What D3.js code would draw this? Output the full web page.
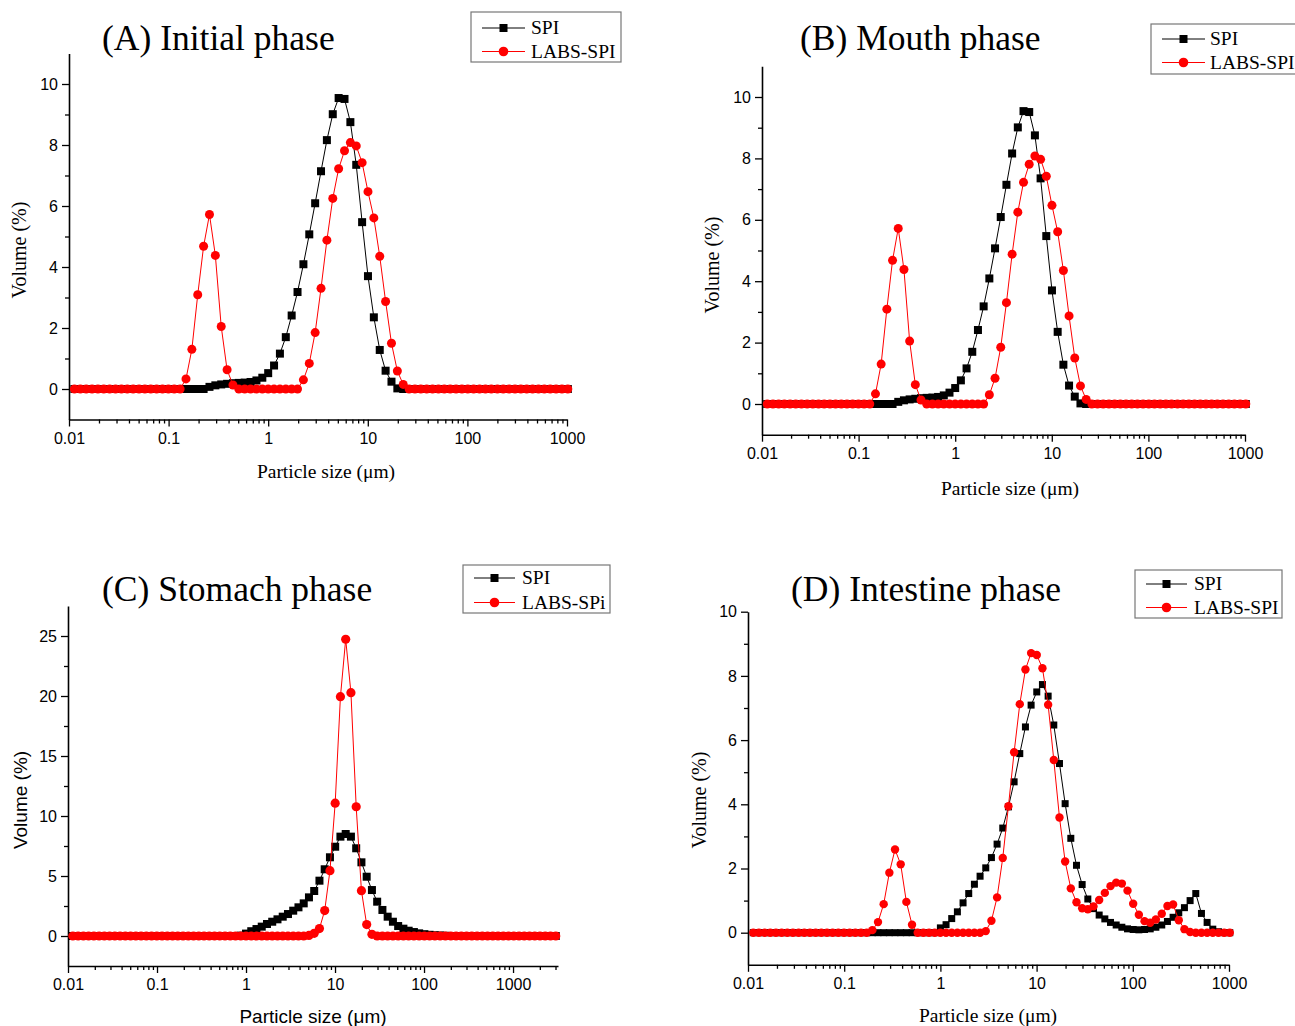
<!DOCTYPE html>
<html><head><meta charset="utf-8">
<script src="https://cdn.jsdelivr.net/npm/d3@7"></script>
<style>body{margin:0;background:#fff}svg{display:block}</style>
</head><body>
<svg id="chart" width="1295" height="1026"></svg>
<script>
// Particle size classes (µm), laser-diffraction channel grid
const sizes = [0.01134,0.01299,0.01488,0.01704,0.01952,0.02236,0.02561,0.02933,0.03359,0.03848,
0.04407,0.05048,0.05782,0.06622,0.07585,0.08687,0.0995,0.1140,0.1305,0.1495,
0.1712,0.1961,0.2246,0.2573,0.2947,0.3375,0.3866,0.4428,0.5071,0.5809,
0.6653,0.7620,0.8728,0.9997,1.145,1.311,1.502,1.720,1.970,2.257,
2.585,2.961,3.391,3.884,4.449,5.095,5.836,6.685,7.656,8.769,
10.04,11.50,13.18,15.09,17.29,19.80,22.68,25.98,29.75,34.08,
39.03,44.71,51.21,58.65,67.18,76.94,88.13,100.9,115.6,132.4,
151.7,173.7,200.0,229.1,262.4,300.5,344.2,394.2,451.5,517.2,
592.3,678.4,777.0,890.0,1019,1168,1337,1532,1754,2009,
2301,2636,3019];

const xTickLabels = ["0.01","0.1","1","10","100","1000"];

// (A) Initial phase
const initialSPI = [0,0,0,0,0,0,0,0,0,0, 0,0,0,0,0,0,0,0,0,0, 0,0,0,
0.07,0.12,0.15,0.17,0.19,0.20,0.21,0.23,0.28,0.37,0.52,0.77,1.16,1.70,2.41,3.18,4.09,
5.07,6.09,7.14,8.16,9.01,9.54,9.51,8.75,7.35,5.47,3.70,2.35,1.28,0.60,0.24,0.02,
0,0,0,0,0,0,0,0,0,0, 0,0,0,0,0,0,0,0,0,0, 0,0,0,0,0,0,0,0,0];
const initialLABS = [0,0,0,0,0,0,0,0,0,0, 0,0,0,0,0,0,0,0,0,
0.33,1.30,3.09,4.68,5.72,4.38,2.05,0.63,0.13,
0,0,0,0,0,0,0,0,0,0,0,
0.30,0.84,1.85,3.30,4.88,6.25,7.22,7.81,8.08,7.97,7.42,6.47,5.61,4.35,2.87,1.50,0.59,0.15,
0,0,0,0,0,0,0,0,0,0, 0,0,0,0,0,0,0,0,0,0, 0,0,0,0,0,0,0,0];

// (B) Mouth phase
const mouthSPI = [0,0,0,0,0,0,0,0,0,0, 0,0,0,0,0,0,0,0,0,0, 0,0,0,
0.07,0.12,0.15,0.17,0.19,0.20,0.21,0.23,0.28,0.37,0.52,0.77,1.16,1.70,2.41,3.18,4.09,
5.07,6.09,7.14,8.16,9.01,9.54,9.51,8.75,7.35,5.47,3.70,2.35,1.28,0.60,0.24,0.02,
0,0,0,0,0,0,0,0,0,0, 0,0,0,0,0,0,0,0,0,0, 0,0,0,0,0,0,0,0,0];
const mouthLABS = [0,0,0,0,0,0,0,0,0,0, 0,0,0,0,0,0,0,0,0,
0.33,1.30,3.09,4.68,5.72,4.38,2.05,0.63,0.13,
0,0,0,0,0,0,0,0,0,0,0,
0.30,0.84,1.85,3.30,4.88,6.25,7.22,7.81,8.08,7.97,7.42,6.47,5.61,4.35,2.87,1.50,0.59,0.15,
0,0,0,0,0,0,0,0,0,0, 0,0,0,0,0,0,0,0,0,0, 0,0,0,0,0,0,0,0];

// (C) Stomach phase
const stomachSPI = [0,0,0,0,0,0,0,0,0,0, 0,0,0,0,0,0,0,0,0,0, 0,0,0,0,0,0,0,0,0,0, 0,0,
0.03,0.20,0.40,0.58,0.78,1.00,1.19,1.39,1.61,1.83,2.11,2.39,2.72,3.22,3.75,4.61,5.56,6.56,
7.44,8.28,8.50,8.28,7.31,6.14,4.94,3.83,2.86,2.17,1.61,1.19,0.83,0.61,0.44,0.33,0.22,0.15,0.10,0.06,
0.04,0.02,
0,0,0,0,0,0,0,0,0,0, 0,0,0,0,0,0,0,0,0,0, 0];
const stomachLABS = [0,0,0,0,0,0,0,0,0,0, 0,0,0,0,0,0,0,0,0,0, 0,0,0,0,0,0,0,0,0,0,
0,0,0,0,0,0,0,0,0,0, 0,0,0,0,0,
0.05,0.22,0.62,2.12,5.44,11.07,19.94,24.73,20.28,10.77,3.78,0.95,0.14,
0,0,0,0,0,0,0,0,0,0, 0,0,0,0,0,0,0,0,0,0, 0,0,0,0,0,0,0,0,0,0, 0,0,0,0,0];

// (D) Intestine phase
const intestineSPI = [0,0,0,0,0,0,0,0,0,0, 0,0,0,0,0,0,0,0,0,0, 0,0,0,0,0,0,0,0,0,0, 0,0,0,
0.15,0.25,0.44,0.65,0.93,1.22,1.51,1.76,2.02,2.34,2.76,3.26,3.92,4.70,5.58,6.41,7.09,
7.50,7.73,7.37,6.47,5.27,4.02,2.94,2.10,1.50,1.05,0.75,0.55,0.43,0.32,0.24,0.17,0.12,
0.10,0.09,0.10,0.12,0.17,0.24,0.35,0.48,0.62,0.78,1.00,1.22,0.60,0.32,0.11,0.03,0,0];
const intestineLABS = [0,0,0,0,0,0,0,0,0,0, 0,0,0,0,0,0,0,0,0,0, 0,
0.08,0.33,0.89,1.87,2.59,2.13,0.96,0.25,
0,0,0,0,0,0,0,0,0,0,0,0,
0.05,0.37,1.10,2.33,3.94,5.62,7.12,8.20,8.71,8.65,8.24,7.10,5.38,3.59,2.22,1.38,0.95,0.76,
0.73,0.82,1.02,1.24,1.45,1.56,1.53,1.31,0.90,0.56,0.36,0.31,0.41,0.59,0.83,0.88,0.39,0.11,0.02,
0,0,0,0,0,0,0];

const panels = [
  {title:"(A) Initial phase", spi:initialSPI, labs:initialLABS, names:["SPI","LABS-SPI"],
   xMax:1000, px:[69,567], yDom:[-1,11], py:[419.5,53.5], yTicks:[0,2,4,6,8,10], yMinor:[1,3,5,7,9],
   titlePos:[102,50], xTitlePos:[326,478], yTitlePos:[26,250], axisFont:"Liberation Serif",
   legend:{x:471,y:12,w:150,h:50,r1:28,r2:51.5,lx0:482,lx1:525,tx:531},
   sq:8, rad:4.5},
  {title:"(B) Mouth phase", spi:mouthSPI, labs:mouthLABS, names:["SPI","LABS-SPI"],
   xMax:1000, px:[762,1245], yDom:[-1,11], py:[434.7,66.3], yTicks:[0,2,4,6,8,10], yMinor:[1,3,5,7,9],
   titlePos:[800,50], xTitlePos:[1010,495], yTitlePos:[719,265], axisFont:"Liberation Serif",
   legend:{x:1151,y:24,w:152,h:50,r1:39,r2:62.5,lx0:1162,lx1:1205,tx:1210},
   sq:8, rad:4.5},
  {title:"(C) Stomach phase", spi:stomachSPI, labs:stomachLABS, names:["SPI","LABS-SPi"],
   xMax:3200, px:[68,558], yDom:[-2.5,27.5], py:[966,606], yTicks:[0,5,10,15,20,25], yMinor:[2.5,7.5,12.5,17.5,22.5],
   titlePos:[102,601], xTitlePos:[313,1023], yTitlePos:[27,800], axisFont:"Liberation Sans",
   legend:{x:463,y:565,w:147,h:48,r1:578,r2:602.5,lx0:474,lx1:515,tx:522},
   sq:8, rad:4.6},
  {title:"(D) Intestine phase", spi:intestineSPI, labs:intestineLABS, names:["SPI","LABS-SPI"],
   xMax:1000, px:[748,1229], yDom:[-1,10], py:[964.8,611.7], yTicks:[0,2,4,6,8,10], yMinor:[1,3,5,7,9],
   titlePos:[791,601], xTitlePos:[988,1022], yTitlePos:[706,800], axisFont:"Liberation Serif",
   legend:{x:1135,y:570,w:147,h:48,r1:584,r2:607.5,lx0:1146,lx1:1187,tx:1194},
   sq:7, rad:4.2}
];

const svg = d3.select("#chart");
const serif = "'Liberation Serif','Times New Roman',serif";
const sans = "'Liberation Sans',Arial,sans-serif";

panels.forEach(p => {
  const g = svg.append("g");
  const x = d3.scaleLog().domain([0.01, p.xMax]).range(p.px);
  const y = d3.scaleLinear().domain(p.yDom).range(p.py);

  // x axis
  const majors = [0.01,0.1,1,10,100,1000];
  const minors = [];
  majors.forEach(d => { for (let k=2;k<=9;k++){ const v=d*k; if (v<=p.xMax) minors.push(v);} });
  const xAxisG = g.append("g").attr("transform",`translate(0,${p.py[0]})`);
  xAxisG.call(d3.axisBottom(x).tickValues(majors).tickFormat((d,i)=>xTickLabels[i]).tickSize(7).tickPadding(6).tickSizeOuter(0));
  const xMinorG = g.append("g").attr("transform",`translate(0,${p.py[0]})`);
  xMinorG.call(d3.axisBottom(x).tickValues(minors).tickFormat("").tickSize(4).tickSizeOuter(0));
  xMinorG.select(".domain").remove();

  // y axis
  const yAxisG = g.append("g").attr("transform",`translate(${p.px[0]},0)`);
  yAxisG.call(d3.axisLeft(y).tickValues(p.yTicks).tickFormat(d3.format("d")).tickSize(7).tickPadding(4).tickSizeOuter(0));
  const yMinorG = g.append("g").attr("transform",`translate(${p.px[0]},0)`);
  yMinorG.call(d3.axisLeft(y).tickValues(p.yMinor).tickFormat("").tickSize(4).tickSizeOuter(0));
  yMinorG.select(".domain").remove();

  g.selectAll(".domain").attr("stroke","#000").attr("stroke-width",1.6);
  g.selectAll(".tick line").attr("stroke","#000").attr("stroke-width",1.3);
  g.selectAll(".tick text").attr("font-family",sans).attr("font-size",16).attr("fill","#000");

  // titles
  g.append("text").attr("x",p.titlePos[0]).attr("y",p.titlePos[1])
    .attr("font-family",serif).attr("font-size",35.5).attr("fill","#000").text(p.title);
  const isSans = p.axisFont === "Liberation Sans";
  const axisFam = isSans ? sans : serif;
  g.append("text").attr("x",p.xTitlePos[0]).attr("y",p.xTitlePos[1]).attr("text-anchor","middle")
    .attr("font-family",axisFam).attr("font-size",isSans ? 19 : 19.5).attr("fill","#000")
    .text("Particle size (μm)");
  g.append("text").attr("transform",`translate(${p.yTitlePos[0]},${p.yTitlePos[1]}) rotate(-90)`)
    .attr("text-anchor","middle").attr("font-family",axisFam)
    .attr("font-size",isSans ? 19 : 20).attr("fill","#000").text("Volume (%)");

  // series
  const mk = vals => vals.map((v,i)=>({s:sizes[i], v:v}));
  const line = d3.line().x(d=>x(d.s)).y(d=>y(d.v));
  const spiData = mk(p.spi), labsData = mk(p.labs);

  g.append("path").datum(spiData).attr("d",line).attr("fill","none").attr("stroke","#000").attr("stroke-width",1);
  g.selectAll(".sq").data(spiData).enter().append("rect").attr("class","sq")
    .attr("x",d=>x(d.s)-p.sq/2).attr("y",d=>y(d.v)-p.sq/2).attr("width",p.sq).attr("height",p.sq).attr("fill","#000");
  g.append("path").datum(labsData).attr("d",line).attr("fill","none").attr("stroke","#ff0000").attr("stroke-width",1);
  g.selectAll(".ci").data(labsData).enter().append("circle").attr("class","ci")
    .attr("cx",d=>x(d.s)).attr("cy",d=>y(d.v)).attr("r",p.rad).attr("fill","#ff0000");

  // legend
  const L = p.legend;
  g.append("rect").attr("x",L.x).attr("y",L.y).attr("width",L.w).attr("height",L.h)
    .attr("fill","#fff").attr("stroke","#777").attr("stroke-width",1.2);
  const lm = (L.lx0+L.lx1)/2;
  g.append("line").attr("x1",L.lx0).attr("x2",L.lx1).attr("y1",L.r1).attr("y2",L.r1).attr("stroke","#000").attr("stroke-width",1);
  g.append("rect").attr("x",lm-4).attr("y",L.r1-4).attr("width",8).attr("height",8).attr("fill","#000");
  g.append("line").attr("x1",L.lx0).attr("x2",L.lx1).attr("y1",L.r2).attr("y2",L.r2).attr("stroke","#ff0000").attr("stroke-width",1);
  g.append("circle").attr("cx",lm).attr("cy",L.r2).attr("r",4.8).attr("fill","#ff0000");
  g.append("text").attr("x",L.tx).attr("y",L.r1+6).attr("font-family",serif).attr("font-size",19.5).attr("fill","#000").text(p.names[0]);
  g.append("text").attr("x",L.tx).attr("y",L.r2+6).attr("font-family",serif).attr("font-size",19.5).attr("fill","#000").text(p.names[1]);
});
</script>
</body></html>
